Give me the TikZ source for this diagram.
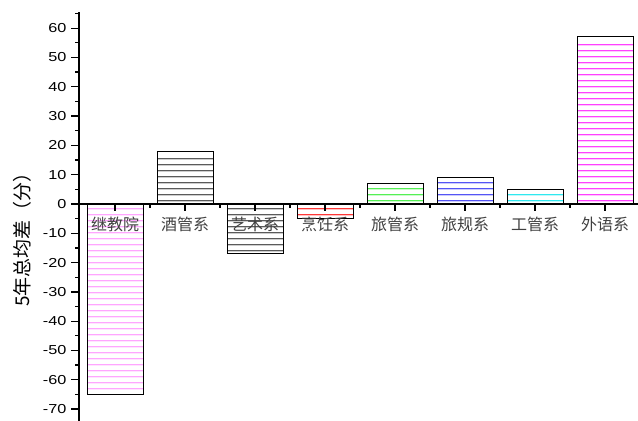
\documentclass[tikz,border=0pt]{standalone}
\usepackage{fontspec}
\setmainfont{Liberation Sans}[FakeStretch=1.25]
\newfontfamily\cjk{Noto Sans CJK SC}
\definecolor{jjpink}{HTML}{FFA6FF}
\definecolor{wymag}{HTML}{FF40FF}
\definecolor{pred}{HTML}{FF3838}
\definecolor{lgreen}{HTML}{55F055}
\definecolor{lblue}{HTML}{5555F5}
\definecolor{gcyan}{HTML}{30E8F0}
\definecolor{hgray}{HTML}{5A5A5A}
\tikzset{
  axisline/.style={line width=1.3pt},
  baredge/.style={line width=1pt},
  hatchline/.style={line width=1pt},
  ticklabel/.style={anchor=east,inner sep=0pt,font=\fontsize{13}{13}\selectfont},
  barlabel/.style={inner sep=0pt,text=black!75,font=\cjk\fontsize{16}{16}\selectfont},
}
\begin{document}
\begin{tikzpicture}[x=1pt,y=2.93pt]
    \useasboundingbox (0,-74.06) rectangle (638,69.62);
    %% Bars with hatching
    \foreach \name/\val/\col [count=\i] in {继教院/-65/jjpink, 酒管系/18/hgray, 艺术系/-17/hgray, 烹饪系/-5/pred,
        旅管系/7/lgreen, 旅规系/9/lblue, 工管系/5/gcyan, 外语系/57/wymag} {
        \pgfmathsetmacro{\xc}{115+70*(\i-1)}
        \pgfmathsetmacro{\sg}{\val<0 ? -1 : 1}
        \pgfmathsetmacro{\hm}{4-0.5*\sg}
        \pgfmathtruncatemacro{\nh}{floor((abs(\val)*2.93-6)/6)}
        \foreach \k in {0,...,\nh} {
            \draw[hatchline,color=\col] ([yshift={\sg*(\hm+6*\k)}]\xc-27.5,0) -- ++(55,0);
            \draw[hatchline,color=\col!30!white] ([yshift={\sg*(\hm+6*\k)-1}]\xc-27.5,0) -- ++(55,0);
        }
        \draw[baredge] (\xc-28,0) rectangle (\xc+28,\val);
        \node[barlabel] (lbl\i) at ([yshift=-20pt]\xc,0) {\name};
    }
    %% Axes
    \coordinate (ybot) at (79,-74.06);
    \coordinate (ytop) at (79,65.5);
    \coordinate (xend) at (638,0);
    \draw[axisline] (ybot) -- (ytop);
    \draw[axisline] (79,0) -- (xend);
    %% Ticks on y
    \foreach \v in {-70,-60,...,60}
        \draw[axisline] (79,\v) -- ++(-8pt,0) node[ticklabel,xshift=-4pt] {\v};
    \foreach \v in {-65,-55,...,65}
        \draw[axisline] (79,\v) -- ++(-4.5pt,0);
    %% Ticks on x
    \foreach \i in {0,...,7}
        \draw[axisline] (115+70*\i,0) -- ++(0,-7pt);
    \foreach \i in {0,...,6}
        \draw[axisline] (150+70*\i,0) -- ++(0,-4pt);
    %% Axis label
    \node[rotate=90,inner sep=0pt,font=\cjk\fontsize{19}{19}\selectfont] (ylab) at (22,-10.6) {5年总均差（分）};
\end{tikzpicture}
\end{document}
